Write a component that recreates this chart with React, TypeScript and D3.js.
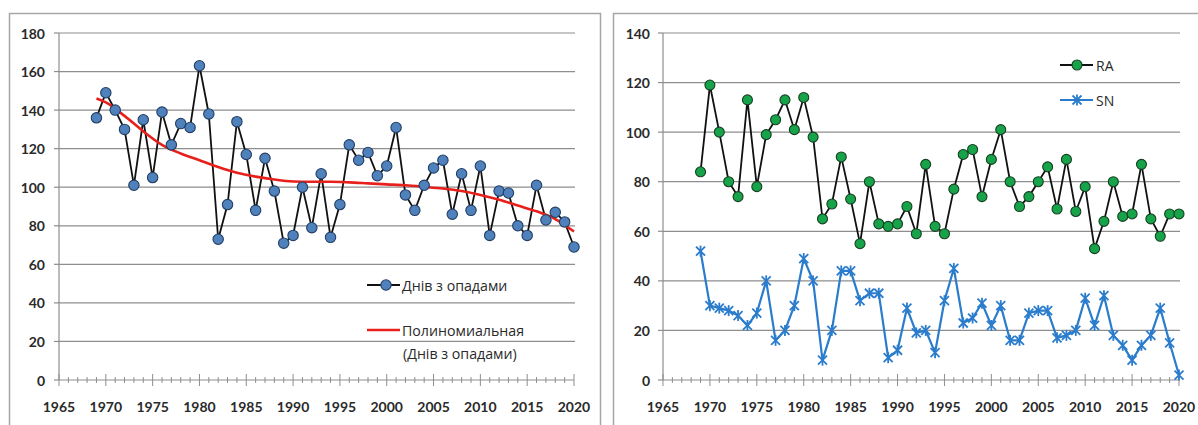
import * as d3 from 'd3'

// Left panel: days with precipitation, 1969-2020
const DAYS_FIRST_YEAR = 1969
const DAYS = [
  136, 149, 140, 130, 101, 135, 105, 139, 122, 133, 131, 163, 138, 73, 91, 134,
  117, 88, 115, 98, 71, 75, 100, 79, 107, 74, 91, 122, 114, 118, 106, 111,
  131, 96, 88, 101, 110, 114, 86, 107, 88, 111, 75, 98, 97, 80, 75, 101,
  83, 87, 82, 69,
]

// polynomial trend
const TREND_YEARS = [1969, 1970, 1972, 1974, 1976, 1978, 1980, 1982, 1984, 1986, 1988, 1990, 1992, 1994, 1996, 1998, 2000, 2002, 2004, 2006, 2008, 2010, 2012, 2014, 2016, 2018, 2020]
const TREND = [146, 144, 137, 129, 122, 117.5, 114, 110.5, 107.5, 105.5, 104, 103, 102.8, 102.8, 102.5, 102, 101.5, 101, 100.2, 99.3, 98, 96, 93.5, 90.5, 87.5, 83.5, 77]

// Right panel: RA / SN, 1969-2020
const RS_FIRST_YEAR = 1969
const RA = [
  84, 119, 100, 80, 74, 113, 78, 99, 105, 113, 101, 114, 98, 65, 71, 90,
  73, 55, 80, 63, 62, 63, 70, 59, 87, 62, 59, 77, 91, 93, 74, 89,
  101, 80, 70, 74, 80, 86, 69, 89, 68, 78, 53, 64, 80, 66, 67, 87,
  65, 58, 67, 67,
]
const SN = [
  52, 30, 29, 28, 26, 22, 27, 40, 16, 20, 30, 49, 40, 8, 20, 44,
  44, 32, 35, 35, 9, 12, 29, 19, 20, 11, 32, 45, 23, 25, 31, 22,
  30, 16, 16, 27, 28, 28, 17, 18, 20, 33, 22, 34, 18, 14, 8, 14,
  18, 29, 15, 2,
]

const X_TICKS = [1965, 1970, 1975, 1980, 1985, 1990, 1995, 2000, 2005, 2010, 2015, 2020]
const LEFT_Y_TICKS = [0, 20, 40, 60, 80, 100, 120, 140, 160, 180]
const RIGHT_Y_TICKS = [0, 20, 40, 60, 80, 100, 120, 140]
const ALL_YEARS = d3.range(1965, 2021)

const LEGEND_DAYS = 'Днів з опадами'
const LEGEND_TREND = ['Полиномиальная', '(Днів з опадами)']

const FONT = 'Lato, "Open Sans", "Noto Sans", sans-serif'
const LEGEND_FONT = '"Open Sans", "Noto Sans", sans-serif'
const GRID = '#8e8e8e'
const TEXT = '#2a2a2a'

type Pt = { year: number; value: number }

const toPoints = (first: number, values: number[]): Pt[] =>
  values.map((value, i) => ({ year: first + i, value }))

function Axes({ x, y, yTicks, labelX }: {
  x: d3.ScaleLinear<number, number>
  y: d3.ScaleLinear<number, number>
  yTicks: number[]
  labelX: number
}) {
  const [x0, x1] = x.range()
  const y0 = y(0)
  return (
    <g>
      {yTicks.filter(t => t > 0).map(t => (
        <line key={`g${t}`} x1={x0} x2={x1 + 1} y1={y(t)} y2={y(t)} stroke={GRID} strokeWidth={1.2} />
      ))}
      <line x1={x0} x2={x0} y1={y(yTicks[yTicks.length - 1])} y2={y0} stroke={GRID} strokeWidth={1.2} />
      {yTicks.map(t => (
        <line key={`yt${t}`} x1={x0 - 5} x2={x0} y1={y(t)} y2={y(t)} stroke={GRID} strokeWidth={1.2} />
      ))}
      <line x1={x0} x2={x1} y1={y0} y2={y0} stroke={GRID} strokeWidth={1.2} />
      {ALL_YEARS.map(yr => {
        const major = yr % 5 === 0
        return (
          <line key={`xt${yr}`} x1={x(yr)} x2={x(yr)} y1={y0 - (major ? 6 : 3)} y2={y0 + (major ? 6 : 3)}
            stroke={GRID} strokeWidth={1} />
        )
      })}
      {yTicks.map(t => (
        <text key={`yl${t}`} x={labelX} y={y(t)} textAnchor="end" dominantBaseline="central"
          fontSize={14} fontWeight="bold" fill={TEXT} fontFamily={FONT}>{t}</text>
      ))}
      {X_TICKS.map(t => (
        <text key={`xl${t}`} x={x(t)} y={412} textAnchor="middle" fontSize={14} fontWeight="bold"
          fill={TEXT} fontFamily={FONT}>{t}</text>
      ))}
    </g>
  )
}

function Star({ cx, cy, color }: { cx: number; cy: number; color: string }) {
  const s = 4.5
  return (
    <g stroke={color} strokeWidth={1.8}>
      <line x1={cx - s} x2={cx + s} y1={cy - s} y2={cy + s} />
      <line x1={cx - s} x2={cx + s} y1={cy + s} y2={cy - s} />
      <line x1={cx} x2={cx} y1={cy - s - 1} y2={cy + s + 1} />
    </g>
  )
}

export default function App() {
  // left panel scales
  const xL = d3.scaleLinear().domain([1965, 2020]).range([59, 574])
  const yL = d3.scaleLinear().domain([0, 180]).range([380, 33])
  // right panel scales
  const xR = d3.scaleLinear().domain([1965, 2020]).range([663, 1179])
  const yR = d3.scaleLinear().domain([0, 140]).range([380, 33])

  const daysPts = toPoints(DAYS_FIRST_YEAR, DAYS)
  const trendPts = TREND_YEARS.map((year, i) => ({ year, value: TREND[i] }))
  const raPts = toPoints(RS_FIRST_YEAR, RA)
  const snPts = toPoints(RS_FIRST_YEAR, SN)

  const lineL = d3.line<Pt>().x(d => xL(d.year)).y(d => yL(d.value))
  const trendLine = d3.line<Pt>().x(d => xL(d.year)).y(d => yL(d.value)).curve(d3.curveMonotoneX)
  const lineR = d3.line<Pt>().x(d => xR(d.year)).y(d => yR(d.value))

  const BLUE_FILL = '#4f81bd'
  const GREEN_FILL = '#17a34a'
  const SN_BLUE = '#2a7ccc'
  const TREND_RED = '#e8201c'

  return (
    <div style={{ position: 'fixed', left: 0, top: 0 }}>
      <svg width={1198} height={425} viewBox="0 0 1198 425" style={{ display: 'block', background: '#fff' }}>
        {/* chart frames */}
        <rect x={9.5} y={13.5} width={591} height={420} fill="#fff" stroke="#a6a6a6" strokeWidth={1.5} />
        <rect x={613.5} y={13.5} width={600} height={420} fill="#fff" stroke="#a6a6a6" strokeWidth={1.5} />

        {/* left panel */}
        <Axes x={xL} y={yL} yTicks={LEFT_Y_TICKS} labelX={45} />
        <path d={lineL(daysPts) || ''} fill="none" stroke="#111" strokeWidth={1.8} />
        <path d={trendLine(trendPts) || ''} fill="none" stroke={TREND_RED} strokeWidth={2.6} />
        {daysPts.map(d => (
          <circle key={`d${d.year}`} cx={xL(d.year)} cy={yL(d.value)} r={5.2} fill={BLUE_FILL} stroke="#233f63" strokeWidth={1.1} />
        ))}

        {/* left legend */}
        <line x1={367} x2={400} y1={285} y2={285} stroke="#111" strokeWidth={1.8} />
        <circle cx={386} cy={285} r={5.2} fill={BLUE_FILL} stroke="#233f63" strokeWidth={1.1} />
        <text x={402} y={285} dominantBaseline="central" fontSize={14.2} fill={TEXT} fontFamily={LEGEND_FONT}>{LEGEND_DAYS}</text>
        <line x1={367} x2={400} y1={330} y2={330} stroke={TREND_RED} strokeWidth={2.6} />
        <text x={402} y={330} dominantBaseline="central" fontSize={14.2} fill={TEXT} fontFamily={LEGEND_FONT}>{LEGEND_TREND[0]}</text>
        <text x={403} y={353} dominantBaseline="central" fontSize={14.2} fill={TEXT} fontFamily={LEGEND_FONT}>{LEGEND_TREND[1]}</text>

        {/* right panel */}
        <Axes x={xR} y={yR} yTicks={RIGHT_Y_TICKS} labelX={650} />
        <path d={lineR(raPts) || ''} fill="none" stroke="#111" strokeWidth={1.8} />
        {raPts.map(d => (
          <circle key={`r${d.year}`} cx={xR(d.year)} cy={yR(d.value)} r={5} fill={GREEN_FILL} stroke="#173f21" strokeWidth={1.1} />
        ))}
        <path d={lineR(snPts) || ''} fill="none" stroke={SN_BLUE} strokeWidth={2.2} />
        {snPts.map(d => (
          <Star key={`s${d.year}`} cx={xR(d.year)} cy={yR(d.value)} color={SN_BLUE} />
        ))}

        {/* right legend */}
        <line x1={1060} x2={1093} y1={65} y2={65} stroke="#111" strokeWidth={1.8} />
        <circle cx={1077} cy={65} r={5} fill={GREEN_FILL} stroke="#173f21" strokeWidth={1.1} />
        <text x={1096} y={65} dominantBaseline="central" fontSize={14} fill={TEXT} fontFamily={LEGEND_FONT}>RA</text>
        <line x1={1060} x2={1093} y1={100} y2={100} stroke={SN_BLUE} strokeWidth={2.2} />
        <Star cx={1077} cy={100} color={SN_BLUE} />
        <text x={1096} y={100} dominantBaseline="central" fontSize={14} fill={TEXT} fontFamily={LEGEND_FONT}>SN</text>
      </svg>
    </div>
  )
}
